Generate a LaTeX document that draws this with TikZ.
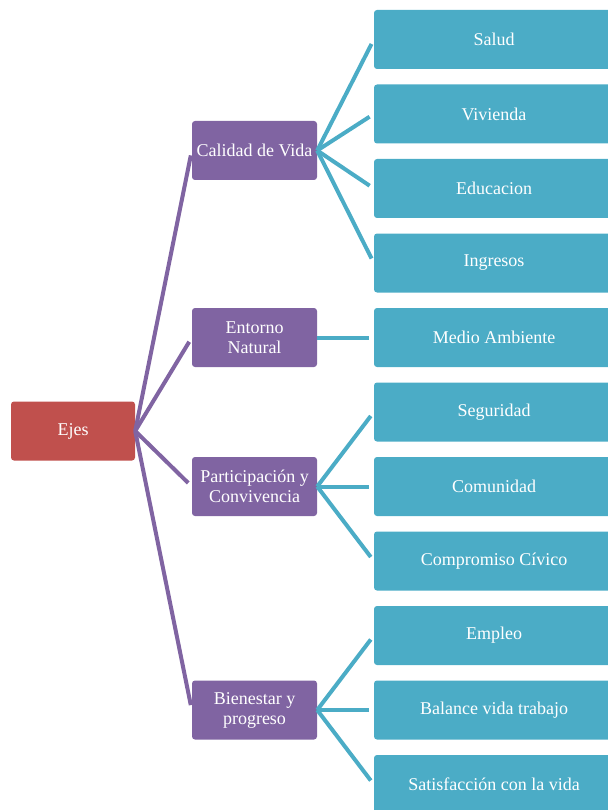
\documentclass[tikz,border=0pt]{standalone}
\usepackage{tikz}
\usetikzlibrary{positioning}
\usepackage{xcolor}
\usepackage{fontspec}
\setmainfont{Liberation Serif}
\definecolor{ejesred}{HTML}{C0504D}
\definecolor{axispurple}{HTML}{8064A2}
\definecolor{itemteal}{HTML}{4BACC6}

\begin{document}
\begin{tikzpicture}[x=1pt, y=-1pt,
  root/.style={rectangle, fill=ejesred, text=white, minimum width=124pt, minimum height=59pt, rounded corners=3pt, inner sep=1pt, align=center, font=\fontsize{18}{20}\selectfont},
  axis/.style={root, fill=axispurple, minimum width=125pt},
  item/.style={root, fill=itemteal, minimum width=240pt},
  trunk/.style={line width=4pt, color=axispurple, shorten >=5pt},
  branch/.style={line width=4pt, color=itemteal, shorten >=5pt}
]
\useasboundingbox (0,0) rectangle (607,810);

\node[root] (ejes) at (73,431) {Ejes};

\node[axis] (calidad) at (254.5,150.5) {Calidad de Vida};
\node[axis] (entorno) at (254.5,337.5) {Entorno\\Natural};
\node[axis] (particip) at (254.5,486.5) {Participación y\\Convivencia};
\node[axis] (bienestar) at (254.5,710) {Bienestar y\\progreso};

\node[item] (salud) at (494,39.5) {Salud};
\node[item] (vivienda) at (494,114) {Vivienda};
\node[item] (educ) at (494,188.5) {Educacion};
\node[item] (ingresos) at (494,263) {Ingresos};
\node[item] (medio) at (494,337.5) {Medio Ambiente};
\node[item] (seguridad) at (494,412) {Seguridad};
\node[item] (comunidad) at (494,486.5) {Comunidad};
\node[item] (civico) at (494,561) {Compromiso Cívico};
\node[item] (empleo) at (494,635.5) {Empleo};
\node[item] (balance) at (494,710) {Balance vida trabajo};
\node[item] (satisf) at (494,784.5) {Satisfacción con la vida};

\draw[trunk] (ejes.east) -- (calidad.west);
\draw[trunk] (ejes.east) -- (entorno.west);
\draw[trunk] (ejes.east) -- (particip.west);
\draw[trunk] (ejes.east) -- (bienestar.west);

\draw[branch] (calidad.east) -- (salud.west);
\draw[branch] (calidad.east) -- (vivienda.west);
\draw[branch] (calidad.east) -- (educ.west);
\draw[branch] (calidad.east) -- (ingresos.west);
\draw[branch] (entorno.east) -- (medio.west);
\draw[branch] (particip.east) -- (seguridad.west);
\draw[branch] (particip.east) -- (comunidad.west);
\draw[branch] (particip.east) -- (civico.west);
\draw[branch] (bienestar.east) -- (empleo.west);
\draw[branch] (bienestar.east) -- (balance.west);
\draw[branch] (bienestar.east) -- (satisf.west);
\end{tikzpicture}
\end{document}
